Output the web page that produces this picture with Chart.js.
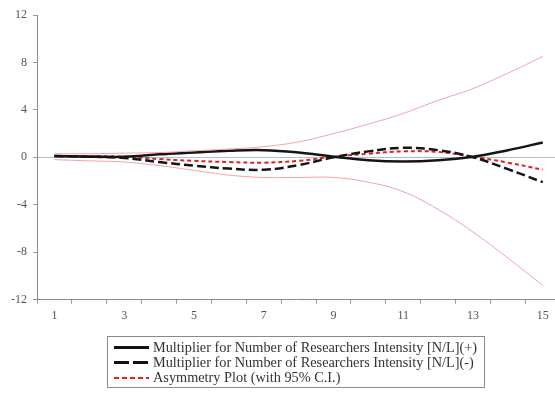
<!DOCTYPE html>
<html>
<head>
<meta charset="utf-8">
<script src="https://cdn.jsdelivr.net/npm/chart.js@4/dist/chart.umd.min.js"></script>
<style>
  html, body { margin: 0; padding: 0; background: #fff; overflow: hidden; }
  #wrap { position: relative; width: 555px; height: 396px; }
  #legend {
    position: absolute; left: 107px; top: 336px; width: 378px; height: 52px;
    border: 1px solid #8a8a8a; box-sizing: border-box;
    font-family: "Liberation Serif", serif; font-size: 14.3px; color: #333;
    padding: 3px 0 0 6px;
  }
  .row { height: 15px; line-height: 15px; white-space: nowrap; }
  .smp { display: inline-block; width: 35px; height: 3px; vertical-align: middle; margin-right: 4px; position: relative; top: -1px; }
  .solid { background: #111; }
  .dash { background: repeating-linear-gradient(to right, #111 0 15px, transparent 15px 19px); }
  .red { height: 2px; background: repeating-linear-gradient(to right, #e0201f 0 5px, transparent 5px 8px); }
</style>
</head>
<body>
<div id="wrap">
  <canvas id="line-chart" width="555" height="396"></canvas>
  <div id="legend">
    <div class="row"><span class="smp solid"></span>Multiplier for Number of Researchers Intensity [N/L](+)</div>
    <div class="row"><span class="smp dash"></span>Multiplier for Number of Researchers Intensity [N/L](-)</div>
    <div class="row"><span class="smp red"></span>Asymmetry Plot (with 95% C.I.)</div>
  </div>
</div>
<script>
var periods = [1, 2, 3, 4, 5, 6, 7, 8, 9, 10, 11, 12, 13, 14, 15];
var multPos = [0.1, 0.05, 0.05, 0.25, 0.4, 0.55, 0.6, 0.4, 0.05, -0.25, -0.35, -0.25, 0.05, 0.6, 1.25];
var multNeg = [0.1, 0.05, -0.05, -0.4, -0.7, -0.95, -1.05, -0.65, 0, 0.5, 0.8, 0.6, 0, -1.0, -2.1];
var asymmetry = [0.1, 0.1, 0.05, -0.15, -0.3, -0.4, -0.45, -0.3, 0.05, 0.3, 0.5, 0.45, 0.05, -0.45, -1.05];
var ciUpper = [0.3, 0.3, 0.35, 0.4, 0.55, 0.7, 0.9, 1.3, 2.0, 2.8, 3.7, 4.8, 5.8, 7.1, 8.5];
var ciLower = [-0.2, -0.3, -0.4, -0.7, -1.1, -1.5, -1.7, -1.7, -1.7, -2.1, -2.9, -4.4, -6.3, -8.5, -10.8];
var yTicks = [-12, -8, -4, 0, 4, 8, 12];
var xLabels = [1, 3, 5, 7, 9, 11, 13, 15];

function pts(arr) {
  return periods.map(function (p, i) { return { x: p, y: arr[i] }; });
}

var tickFont = { family: "Liberation Serif", size: 12 };

new Chart(document.getElementById("line-chart"), {
    type: 'line',
    data: {
      datasets: [{
          label: "CI upper",
          data: pts(ciUpper),
          borderColor: "#f4a3a3",
          borderWidth: 1,
          pointRadius: 0,
          tension: 0.4
        },{
          label: "CI lower",
          data: pts(ciLower),
          borderColor: "#f4a3a3",
          borderWidth: 1,
          pointRadius: 0,
          tension: 0.4
        },{
          label: "Multiplier (+)",
          data: pts(multPos),
          borderColor: "#151515",
          borderWidth: 2.5,
          pointRadius: 0,
          tension: 0.4
        },{
          label: "Multiplier (-)",
          data: pts(multNeg),
          borderColor: "#151515",
          borderWidth: 2.5,
          borderDash: [9, 4],
          pointRadius: 0,
          tension: 0.4
        },{
          label: "Asymmetry",
          data: pts(asymmetry),
          borderColor: "#e0201f",
          borderWidth: 2,
          borderDash: [4, 3],
          pointRadius: 0,
          tension: 0.4
        }
      ]
    },
    options: {
      responsive: false,
      animation: false,
      layout: { padding: { top: 15, right: 0, bottom: 68, left: 0 } },
      plugins: { legend: { display: false }, tooltip: { enabled: false } },
      scales: {
        x: {
          type: 'linear',
          min: 0.5,
          max: 15.35,
          afterBuildTicks: function (axis) {
            var t = [];
            for (var v = 0.5; v <= 15.0001; v += 0.5) t.push({ value: v });
            axis.ticks = t;
          },
          ticks: {
            autoSkip: false,
            maxRotation: 0,
            padding: 5,
            color: "#555",
            font: tickFont,
            callback: function (v) { return xLabels.indexOf(v) >= 0 ? String(v) : ''; }
          },
          grid: {
            drawOnChartArea: false,
            tickLength: 4,
            tickColor: function (ctx) { return ctx.tick && ctx.tick.value % 1 !== 0 ? '#999' : 'rgba(0,0,0,0)'; }
          },
          border: { color: "#888", width: 1 }
        },
        y: {
          min: -12,
          max: 12,
          afterBuildTicks: function (axis) {
            axis.ticks = yTicks.map(function (v) { return { value: v }; });
          },
          afterFit: function (axis) { axis.width = 37; },
          ticks: { color: "#555", font: tickFont, padding: 6 },
          grid: {
            tickLength: 4,
            tickColor: "#999",
            color: function (ctx) { return ctx.tick && ctx.tick.value === 0 ? '#a9c0d2' : 'rgba(0,0,0,0)'; }
          },
          border: { color: "#888", width: 1 }
        }
      }
    }
});
</script>
</body>
</html>
